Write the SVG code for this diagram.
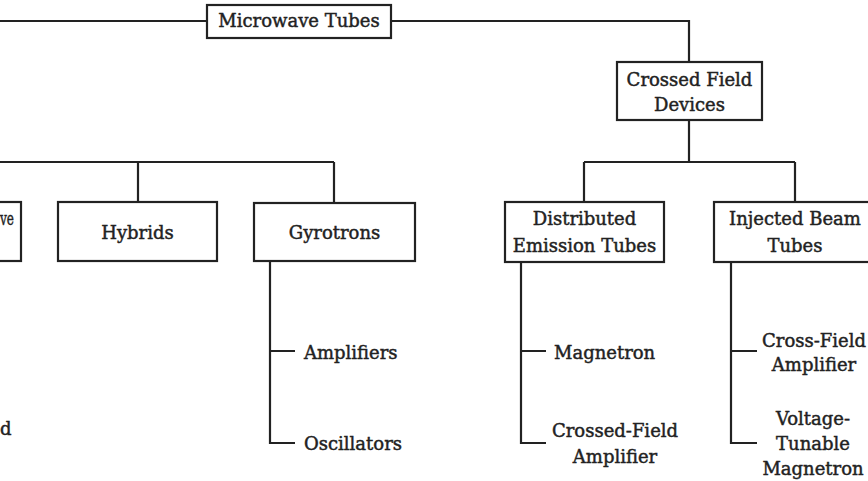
<svg xmlns="http://www.w3.org/2000/svg" width="868" height="481" viewBox="0 0 868 481">
<style>
.box{fill:#fff;stroke:#222;stroke-width:2.2}
.ln{fill:none;stroke:#222;stroke-width:2.2}
text{font-family:"DejaVu Serif","Liberation Serif",serif;font-size:18px;fill:#222;stroke:#222;stroke-width:0.45}
.c{text-anchor:middle}
</style>
<rect width="868" height="481" fill="#fff"/>
<g id="connectors">
<path class="ln" d="M0 21H207M391 21H689V62"/>
<path class="ln" d="M689 120V162M584 162H795M584 162V202M795 162V202"/>
<path class="ln" d="M0 162H334M138 162V202M334 162V202"/>
<path class="ln" d="M270 261V443H295M270 351H295"/>
<path class="ln" d="M521 262V443H546M521 351H546"/>
<path class="ln" d="M731 262V443H757M731 351H757"/>
</g>
<g id="microwave-tubes"><rect class="box" x="207" y="5" width="184" height="33"/><text class="c" x="299" y="27">Microwave Tubes</text></g>
<g id="crossed-field-devices"><rect class="box" x="617" y="62" width="145" height="58"/><text class="c" x="689.5" y="86">Crossed Field</text><text class="c" x="689.5" y="111">Devices</text></g>
<g id="wave-box"><rect class="box" x="-140" y="202" width="161" height="59"/><text x="0" y="225" textLength="14" lengthAdjust="spacingAndGlyphs">ve</text></g>
<g id="hybrids"><rect class="box" x="58" y="202" width="159" height="59"/><text class="c" x="137.5" y="239">Hybrids</text></g>
<g id="gyrotrons"><rect class="box" x="254" y="203" width="161" height="58"/><text class="c" x="334.5" y="239">Gyrotrons</text></g>
<g id="distributed-emission-tubes"><rect class="box" x="505" y="202" width="159" height="60"/><text class="c" x="584.5" y="225">Distributed</text><text class="c" x="584.5" y="252">Emission Tubes</text></g>
<g id="injected-beam-tubes"><rect class="box" x="714" y="202" width="162" height="60"/><text class="c" x="795" y="225">Injected Beam</text><text class="c" x="795" y="252">Tubes</text></g>
<g id="left-cut"><text x="0" y="435">d</text></g>
<g id="amplifiers"><text x="304" y="359">Amplifiers</text></g>
<g id="oscillators"><text x="304" y="450">Oscillators</text></g>
<g id="magnetron"><text x="554" y="359">Magnetron</text></g>
<g id="crossed-field-amplifier"><text class="c" x="615" y="437">Crossed-Field</text><text class="c" x="615" y="463">Amplifier</text></g>
<g id="cross-field-amplifier"><text class="c" x="814" y="347">Cross-Field</text><text class="c" x="814" y="371">Amplifier</text></g>
<g id="voltage-tunable-magnetron"><text class="c" x="813" y="425">Voltage-</text><text class="c" x="813" y="450">Tunable</text><text class="c" x="813" y="475">Magnetron</text></g>
</svg>
